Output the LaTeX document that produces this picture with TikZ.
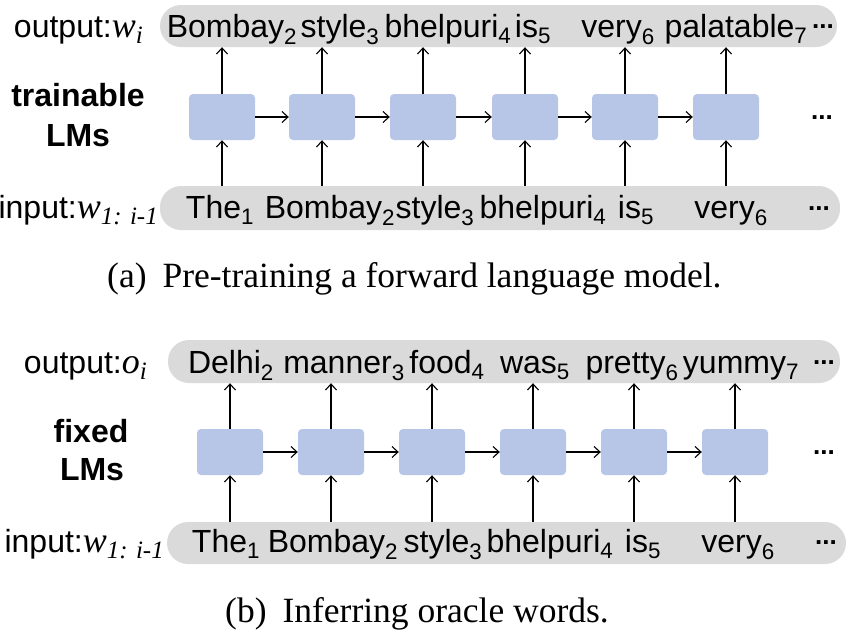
\documentclass[tikz,border=0pt]{standalone}
\usepackage{fontspec}
\setmainfont{Liberation Sans}
\newfontfamily\capfont{Liberation Serif}
\usepackage{xcolor}
\usetikzlibrary{arrows.meta}
\definecolor{barGray}{HTML}{DADADA}
\definecolor{cellBlue}{HTML}{B7C6E7}
\newcommand{\wsub}[2]{#1\textsubscript{#2}}
\newcommand{\mathw}[2]{{\capfont\itshape\fontsize{36}{40}\selectfont #1}\raisebox{-6pt}{\capfont\itshape\fontsize{25}{30}\selectfont #2}}
\newcommand{\moredots}{{\fontsize{26}{30}\selectfont\bfseries ...}}

\begin{document}
\begin{tikzpicture}[x=1pt,y=-1pt,
    font=\fontsize{32}{38}\selectfont,
    bar/.style={rectangle,fill=barGray,rounded corners=21pt,inner sep=0pt},
    cell/.style={rectangle,fill=cellBlue,rounded corners=4pt,minimum width=66pt,minimum height=46pt,inner sep=0pt},
    word/.style={anchor=base,inner sep=0pt},
    side/.style={anchor=base east,inner sep=0pt},
    lm/.style={anchor=base,inner sep=0pt,font=\fontsize{32}{38}\selectfont\bfseries},
    subcap/.style={anchor=base west,inner sep=0pt,font=\capfont\fontsize{35.5}{40}\selectfont},
    link/.style={-{Straight Barb[length=6pt,width=11pt]},line width=1.1pt}]
    \useasboundingbox (0,0) rectangle (848,630);
        % (a) pre-training
        \node[bar,minimum width=677pt,minimum height=42pt] (outA) at (498.5,26) {};
        \node[bar,minimum width=680pt,minimum height=44pt] (inA) at (500,208) {};
        \node[side] (outLblA) at (143,37) {output:\mathw{w}{i}};
        \node[side] (inLblA) at (158,218) {input:\mathw{w}{1: i-1}};
        \node[lm] (trainA) at (78,106) {trainable};
        \node[lm] (lmA) at (78,146) {LMs};
        \foreach \i/\x in {1/222,2/322,3/423,4/525,5/625,6/726}{
            \node[cell] (cellA\i) at (\x,117) {};
            \draw[link] (cellA\i.north) -- (cellA\i.north |- outA.south);
            \draw[link] (cellA\i.south |- inA.north) -- (cellA\i.south);
        }
        \foreach \i [evaluate=\i as \j using int(\i+1)] in {1,...,5}
            \draw[link] (cellA\i.east) -- (cellA\j.west);
        \node[word] (dotsA) at (822,119) {\moredots};
        \node[word] (oA1) at (232,37) {\wsub{Bombay}{2}};
        \node[word] (oA2) at (340,37) {\wsub{style}{3}};
        \node[word] (oA3) at (448,37) {\wsub{bhelpuri}{4}};
        \node[word] (oA4) at (533,37) {\wsub{is}{5}};
        \node[word] (oA5) at (618,37) {\wsub{very}{6}};
        \node[word] (oA6) at (736,37) {\wsub{palatable}{7}};
        \node[word] (oA7) at (823,28) {\moredots};
        \node[word] (iA1) at (220,218) {\wsub{The}{1}};
        \node[word] (iA2) at (330,218) {\wsub{Bombay}{2}};
        \node[word] (iA3) at (435,218) {\wsub{style}{3}};
        \node[word] (iA4) at (543,218) {\wsub{bhelpuri}{4}};
        \node[word] (iA5) at (636,218) {\wsub{is}{5}};
        \node[word] (iA6) at (731,218) {\wsub{very}{6}};
        \node[word] (iA7) at (819,210) {\moredots};
        \node[subcap] (capA) at (107,287) {(a)\hspace{0.45em}Pre-training a forward language model.};
        % (b) inferring oracle words
        \node[bar,minimum width=672pt,minimum height=43pt] (outB) at (504,361.5) {};
        \node[bar,minimum width=679pt,minimum height=42pt] (inB) at (506.5,543) {};
        \node[side] (outLblB) at (147,373) {output:\mathw{o}{i}};
        \node[side] (inLblB) at (164,552) {input:\mathw{w}{1: i-1}};
        \node[lm] (fixB) at (91,442) {fixed};
        \node[lm] (lmB) at (92,480) {LMs};
        \foreach \i/\x in {1/230,2/331,3/432,4/533,5/634,6/735}{
            \node[cell] (cellB\i) at (\x,452) {};
            \draw[link] (cellB\i.north) -- (cellB\i.north |- outB.south);
            \draw[link] (cellB\i.south |- inB.north) -- (cellB\i.south);
        }
        \foreach \i [evaluate=\i as \j using int(\i+1)] in {1,...,5}
            \draw[link] (cellB\i.east) -- (cellB\j.west);
        \node[word] (dotsB) at (824,454) {\moredots};
        \node[word] (oB1) at (231,373) {\wsub{Delhi}{2}};
        \node[word] (oB2) at (344,373) {\wsub{manner}{3}};
        \node[word] (oB3) at (447,373) {\wsub{food}{4}};
        \node[word] (oB4) at (535,373) {\wsub{was}{5}};
        \node[word] (oB5) at (632,373) {\wsub{pretty}{6}};
        \node[word] (oB6) at (741,373) {\wsub{yummy}{7}};
        \node[word] (oB7) at (824,364) {\moredots};
        \node[word] (iB1) at (226,552) {\wsub{The}{1}};
        \node[word] (iB2) at (333,552) {\wsub{Bombay}{2}};
        \node[word] (iB3) at (443,552) {\wsub{style}{3}};
        \node[word] (iB4) at (550,552) {\wsub{bhelpuri}{4}};
        \node[word] (iB5) at (643,552) {\wsub{is}{5}};
        \node[word] (iB6) at (738,552) {\wsub{very}{6}};
        \node[word] (iB7) at (826,544) {\moredots};
        \node[subcap] (capB) at (225,622) {(b)\hspace{0.45em}Inferring oracle words.};
    \end{tikzpicture}
\end{document}
